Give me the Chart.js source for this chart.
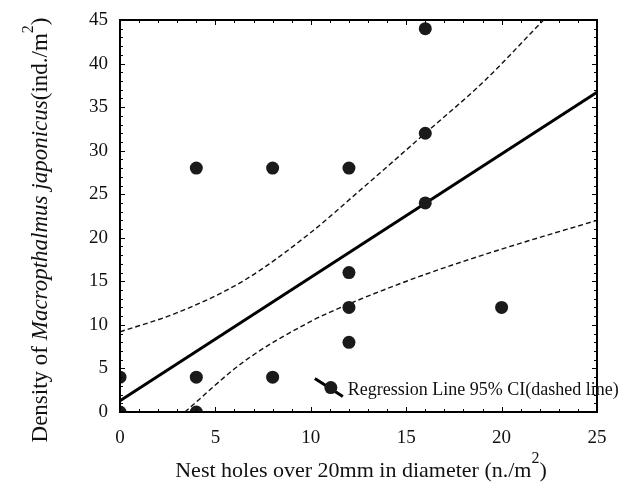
<!DOCTYPE html>
<html>
<head>
<meta charset="utf-8">
<script src="https://cdn.jsdelivr.net/npm/chart.js@4"></script>
<style>
  html, body { margin: 0; padding: 0; background: #fff; }
  canvas { display: block; }
</style>
</head>
<body>
<canvas id="chart" width="618" height="492"></canvas>
<script>
// observed points (nest holes vs crab density)
const holes   = [0, 0, 4, 4, 4, 8, 8, 12, 12, 12, 12, 16, 16, 16, 20];
const density = [0, 4, 28, 4, 0, 28, 4, 28, 16, 12, 8, 44, 32, 24, 12];

// regression line
const fitX = [0, 25];
const fitY = [1.3, 36.7];

// 95% CI bands
const upperX = [0, 3, 6.5, 10, 12.5, 16, 19, 22.2];
const upperY = [9.2, 11.4, 15.1, 20.6, 25.3, 32, 37.8, 45];
const lowerX = [3.4, 6.5, 10, 12, 16, 20, 25];
const lowerY = [0, 5.8, 10.4, 12.4, 15.8, 18.7, 22];

const xTicks = [0, 5, 10, 15, 20, 25];
const yTicks = [0, 5, 10, 15, 20, 25, 30, 35, 40, 45];

const legendText = 'Regression Line 95% CI(dashed line)';
const serif = '"Liberation Serif", "DejaVu Serif", serif';

const toPts = (xs, ys) => xs.map((x, i) => ({ x: x, y: ys[i] }));

// frame, inward ticks, axis titles and the little legend
const decorations = {
  id: 'decorations',
  afterDraw(chart) {
    const { ctx, chartArea: a, scales: { x, y } } = chart;
    ctx.save();
    ctx.strokeStyle = '#000';

    // minor / major tick marks on all four sides
    ctx.lineWidth = 1;
    ctx.beginPath();
    for (let v = x.min; v <= x.max; v++) {
      const px = Math.round(x.getPixelForValue(v)) + 0.5;
      const len = xTicks.includes(v) ? 5 : 3;
      ctx.moveTo(px, a.bottom); ctx.lineTo(px, a.bottom - len);
      ctx.moveTo(px, a.top); ctx.lineTo(px, a.top + len);
    }
    for (let v = y.min; v <= y.max; v++) {
      const py = Math.round(y.getPixelForValue(v)) + 0.5;
      const len = yTicks.includes(v) ? 5 : 3;
      ctx.moveTo(a.left, py); ctx.lineTo(a.left + len, py);
      ctx.moveTo(a.right, py); ctx.lineTo(a.right - len, py);
    }
    ctx.stroke();

    ctx.lineWidth = 2;
    ctx.strokeRect(a.left, a.top, a.right - a.left, a.bottom - a.top);

    ctx.fillStyle = '#111';
    ctx.textBaseline = 'alphabetic';

    // y title, rotated, with italic species name
    const yParts = [
      { t: 'Density of ', f: '23px ' + serif },
      { t: 'Macropthalmus japonicus', f: 'italic 23px ' + serif },
      { t: '(ind./m', f: '23px ' + serif },
      { t: '2', f: '16px ' + serif, sup: true },
      { t: ')', f: '23px ' + serif }
    ];
    drawParts(ctx, yParts, 47, 230, true);

    // x title
    const xParts = [
      { t: 'Nest holes over 20mm in diameter (n./m', f: '22px ' + serif },
      { t: '2', f: '16px ' + serif, sup: true },
      { t: ')', f: '22px ' + serif }
    ];
    drawParts(ctx, xParts, 361, 477, false);

    // legend: short thick line through a dot
    const lx = x.getPixelForValue(11.05);
    const ly = y.getPixelForValue(2.8);
    ctx.lineWidth = 3;
    ctx.beginPath();
    ctx.moveTo(lx - 16, ly - 9);
    ctx.lineTo(lx + 12, ly + 9);
    ctx.stroke();
    ctx.fillStyle = '#1a1a1a';
    ctx.beginPath();
    ctx.arc(lx, ly, 6.5, 0, Math.PI * 2);
    ctx.fill();
    ctx.fillStyle = '#111';
    ctx.font = '18px ' + serif;
    ctx.textAlign = 'left';
    ctx.fillText(legendText, lx + 17, ly + 7);

    ctx.restore();
  }
};

function drawParts(ctx, parts, cx, cy, rotate) {
  let total = 0;
  parts.forEach(p => { ctx.font = p.f; p.w = ctx.measureText(p.t).width; total += p.w; });
  ctx.save();
  ctx.translate(cx, cy);
  if (rotate) ctx.rotate(-Math.PI / 2);
  ctx.textAlign = 'left';
  let pos = -total / 2;
  parts.forEach(p => {
    ctx.font = p.f;
    ctx.fillText(p.t, pos, p.sup ? -14 : 0);
    pos += p.w;
  });
  ctx.restore();
}

const tickFont = { family: serif, size: 19 };

new Chart(document.getElementById('chart'), {
  type: 'scatter',
  data: {
    datasets: [
      {
        label: 'Observed',
        data: toPts(holes, density),
        backgroundColor: '#1a1a1a',
        borderColor: '#000',
        borderWidth: 0,
        pointRadius: 6.5,
        clip: 0
      },
      {
        label: 'Regression Line',
        data: toPts(fitX, fitY),
        showLine: true,
        borderColor: '#000',
        borderWidth: 3,
        pointRadius: 0,
        clip: 0
      },
      {
        label: 'Upper 95% CI',
        data: toPts(upperX, upperY),
        showLine: true,
        borderColor: '#111',
        borderWidth: 1.4,
        borderDash: [5, 3],
        pointRadius: 0,
        cubicInterpolationMode: 'monotone',
        clip: 0
      },
      {
        label: 'Lower 95% CI',
        data: toPts(lowerX, lowerY),
        showLine: true,
        borderColor: '#111',
        borderWidth: 1.4,
        borderDash: [5, 3],
        pointRadius: 0,
        cubicInterpolationMode: 'monotone',
        clip: 0
      }
    ]
  },
  options: {
    responsive: false,
    animation: false,
    layout: { padding: { top: 20, right: 21, left: 0, bottom: 0 } },
    plugins: {
      legend: { display: false },
      tooltip: { enabled: false }
    },
    scales: {
      x: {
        type: 'linear',
        min: 0,
        max: 25,
        afterBuildTicks: s => { s.ticks = xTicks.map(v => ({ value: v })); },
        afterFit: s => { s.height = 80; },
        ticks: { font: tickFont, color: '#111', padding: 7, maxRotation: 0, autoSkip: false },
        grid: { display: false },
        border: { display: false }
      },
      y: {
        type: 'linear',
        min: 0,
        max: 45,
        afterBuildTicks: s => { s.ticks = yTicks.map(v => ({ value: v })); },
        afterFit: s => { s.width = 120; },
        ticks: { font: tickFont, color: '#111', padding: 4, autoSkip: false },
        grid: { display: false },
        border: { display: false }
      }
    }
  },
  plugins: [decorations]
});
</script>
</body>
</html>
